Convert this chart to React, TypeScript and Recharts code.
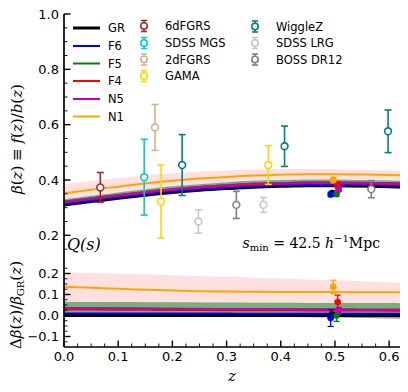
import {
  ComposedChart,
  Line,
  Area,
  Scatter,
  ErrorBar,
  XAxis,
  YAxis,
} from "recharts";

// redshift grid of the theory curves
const zGrid = [0, 0.05, 0.1, 0.15, 0.2, 0.25, 0.3, 0.35, 0.4, 0.45, 0.5, 0.55, 0.6, 0.62];

// beta(z) = f(z)/b(z), top panel
const betaGR = [0.31, 0.322, 0.334, 0.345, 0.355, 0.363, 0.369, 0.374, 0.377, 0.379, 0.379, 0.378, 0.376, 0.375];
const betaF6 = [0.313, 0.325, 0.337, 0.348, 0.358, 0.366, 0.372, 0.377, 0.38, 0.382, 0.382, 0.381, 0.379, 0.378];
const betaF5 = [0.322, 0.334, 0.346, 0.357, 0.367, 0.375, 0.381, 0.386, 0.389, 0.391, 0.391, 0.39, 0.388, 0.387];
const betaF4 = [0.319, 0.331, 0.343, 0.354, 0.364, 0.372, 0.378, 0.383, 0.386, 0.388, 0.388, 0.387, 0.385, 0.384];
const betaN5 = [0.321, 0.333, 0.345, 0.357, 0.367, 0.375, 0.381, 0.386, 0.389, 0.391, 0.391, 0.39, 0.388, 0.387];
const betaN1 = [0.352, 0.365, 0.376, 0.387, 0.397, 0.405, 0.411, 0.416, 0.419, 0.421, 0.421, 0.42, 0.418, 0.417];

// shaded bands, top panel
const pinkLoTop = [0.329, 0.341, 0.354, 0.365, 0.376, 0.384, 0.39, 0.395, 0.398, 0.4, 0.4, 0.399, 0.396, 0.395];
const pinkHiTop = [0.385, 0.396, 0.407, 0.416, 0.424, 0.43, 0.435, 0.438, 0.44, 0.44, 0.439, 0.437, 0.434, 0.433];
const greenLoTop = [0.313, 0.325, 0.336, 0.346, 0.356, 0.363, 0.368, 0.372, 0.375, 0.376, 0.375, 0.373, 0.371, 0.369];
const greenHiTop = [0.33, 0.343, 0.355, 0.367, 0.377, 0.385, 0.392, 0.397, 0.4, 0.402, 0.402, 0.4, 0.398, 0.397];

// delta beta / beta_GR, bottom panel
const dGR = [0, 0, 0, 0, 0, 0, 0, 0, 0, 0, 0, 0, 0, 0];
const dF6 = [0.01, 0.01, 0.01, 0.009, 0.009, 0.009, 0.009, 0.008, 0.008, 0.008, 0.008, 0.008, 0.008, 0.008];
const dF5 = [0.036, 0.035, 0.034, 0.033, 0.032, 0.031, 0.03, 0.029, 0.028, 0.028, 0.027, 0.026, 0.026, 0.025];
const dF4 = [0.028, 0.028, 0.027, 0.027, 0.026, 0.026, 0.025, 0.025, 0.025, 0.024, 0.024, 0.024, 0.023, 0.023];
const dN5 = [0.034, 0.034, 0.033, 0.033, 0.032, 0.032, 0.031, 0.031, 0.03, 0.03, 0.03, 0.029, 0.029, 0.029];
const dN1 = [0.137, 0.132, 0.127, 0.123, 0.119, 0.116, 0.114, 0.113, 0.112, 0.112, 0.112, 0.111, 0.111, 0.111];

const pinkLoBot = [0.06, 0.06, 0.059, 0.059, 0.058, 0.058, 0.057, 0.057, 0.056, 0.056, 0.055, 0.055, 0.054, 0.054];
const pinkHiBot = [0.205, 0.202, 0.199, 0.196, 0.192, 0.188, 0.184, 0.18, 0.176, 0.172, 0.168, 0.163, 0.158, 0.156];
const greenLoBot = [0.01, 0.008, 0.006, 0.004, 0.002, 0, -0.002, -0.004, -0.006, -0.008, -0.01, -0.012, -0.014, -0.015];
const greenHiBot = [0.065, 0.064, 0.064, 0.063, 0.063, 0.062, 0.062, 0.061, 0.061, 0.06, 0.06, 0.059, 0.059, 0.058];

// survey measurements
const sixdFGRS = [{ z: 0.067, beta: 0.373, err: 0.054 }];
const sdssMGS = [{ z: 0.148, beta: 0.41, err: 0.137 }];
const twodFGRS = [{ z: 0.168, beta: 0.59, err: 0.083 }];
const gama = [
  { z: 0.179, beta: 0.322, err: 0.132 },
  { z: 0.377, beta: 0.454, err: 0.07 },
];
const wiggleZ = [
  { z: 0.218, beta: 0.454, err: 0.11 },
  { z: 0.407, beta: 0.522, err: 0.073 },
  { z: 0.598, beta: 0.576, err: 0.077 },
];
const sdssLRG = [
  { z: 0.248, beta: 0.25, err: 0.042 },
  { z: 0.368, beta: 0.31, err: 0.027 },
];
const bossDR12 = [
  { z: 0.318, beta: 0.31, err: 0.049 },
  { z: 0.567, beta: 0.367, err: 0.031 },
];

// mock measurements per model near z = 0.5 (top: beta, bottom: delta)
const ptGR = [{ z: 0.495, beta: 0.353, err: 0.006, d: 0.004, dErr: 0.01 }];
const ptF6 = [{ z: 0.492, beta: 0.348, err: 0.008, d: -0.012, dErr: 0.04 }];
const ptF5 = [{ z: 0.503, beta: 0.35, err: 0.01, d: 0.0, dErr: 0.028 }];
const ptF4 = [{ z: 0.505, beta: 0.381, err: 0.012, d: 0.064, dErr: 0.033 }];
const ptN5 = [{ z: 0.507, beta: 0.366, err: 0.008, d: 0.024, dErr: 0.015 }];
const ptN1 = [{ z: 0.497, beta: 0.4, err: 0.01, d: 0.136, dErr: 0.032 }];

// axis ticks (majors + minors)
const xTicks = [0, 0.025, 0.05, 0.075, 0.1, 0.125, 0.15, 0.175, 0.2, 0.225, 0.25, 0.275, 0.3, 0.325, 0.35, 0.375, 0.4, 0.425, 0.45, 0.475, 0.5, 0.525, 0.55, 0.575, 0.6];
const topYTicks = [0.15, 0.2, 0.25, 0.3, 0.35, 0.4, 0.45, 0.5, 0.55, 0.6, 0.65, 0.7, 0.75, 0.8, 0.85, 0.9, 0.95, 1.0];
const botYTicks = [-0.125, -0.1, -0.075, -0.05, -0.025, 0, 0.025, 0.05, 0.075, 0.1, 0.125, 0.15, 0.175, 0.2, 0.225];

const modelNames = ["GR", "F6", "F5", "F4", "N5", "N1"];
const modelColors = ["#000000", "#0000ff", "#008000", "#ff0000", "#bf00bf", "#ffa500"];
const modelWidths = [3, 2, 2, 2, 2, 2];
const modelPoints = [ptGR, ptF6, ptF5, ptF4, ptN5, ptN1];

const surveyNames = ["6dFGRS", "SDSS MGS", "2dFGRS", "GAMA", "WiggleZ", "SDSS LRG", "BOSS DR12"];
const surveyColors = ["#a52a2a", "#00ced1", "#d2b48c", "#ffd700", "#008080", "#c8c8c8", "#808080"];
const surveyData = [sixdFGRS, sdssMGS, twodFGRS, gama, wiggleZ, sdssLRG, bossDR12];

const topData = zGrid.map((z, i) => ({
  z,
  GR: betaGR[i],
  F6: betaF6[i],
  F5: betaF5[i],
  F4: betaF4[i],
  N5: betaN5[i],
  N1: betaN1[i],
  pink: [pinkLoTop[i], pinkHiTop[i]],
  green: [greenLoTop[i], greenHiTop[i]],
}));

const botData = zGrid.map((z, i) => ({
  z,
  GR: dGR[i],
  F6: dF6[i],
  F5: dF5[i],
  F4: dF4[i],
  N5: dN5[i],
  N1: dN1[i],
  pink: [pinkLoBot[i], pinkHiBot[i]],
  green: [greenLoBot[i], greenHiBot[i]],
}));

const SANS = "'DejaVu Sans', sans-serif";
const SERIF = "'DejaVu Serif', serif";
const X_MAX = 0.62;

const isMultiple = (step: number) => (v: number) =>
  Math.abs(v / step - Math.round(v / step)) < 1e-6;

const fmt = (v: number) =>
  (v < -1e-9 ? "\u2212" : "") + Math.abs(v).toFixed(1);

// inward matplotlib-style ticks, minor ones without labels
const makeTick =
  (side: "left" | "right" | "top" | "bottom", isMajor: (v: number) => boolean, withLabel: boolean) =>
  (props: any) => {
    const { x, y, payload } = props;
    const v = payload.value;
    const major = isMajor(v);
    const len = major ? 6.5 : 3.5;
    const sw = major ? 1.4 : 0.9;
    let x2 = x;
    let y2 = y;
    if (side === "left") x2 = x + len;
    if (side === "right") x2 = x - len;
    if (side === "top") y2 = y + len;
    if (side === "bottom") y2 = y - len;
    return (
      <g>
        <line x1={x} y1={y} x2={x2} y2={y2} stroke="#000" strokeWidth={sw} />
        {withLabel && major && side === "left" && (
          <text x={x - 5} y={y + 4.7} textAnchor="end" fontSize={13} fontFamily={SANS} fill="#000">
            {fmt(v)}
          </text>
        )}
        {withLabel && major && side === "bottom" && (
          <text x={x} y={y + 14} textAnchor="middle" fontSize={13} fontFamily={SANS} fill="#000">
            {fmt(v)}
          </text>
        )}
      </g>
    );
  };

const spine = { stroke: "#000", strokeWidth: 1.7 };

const openCircle = (color: string) => (p: any) =>
  <circle cx={p.cx} cy={p.cy} r={3.4} fill="#fff" stroke={color} strokeWidth={1.6} />;

const filledCircle = (color: string) => (p: any) =>
  <circle cx={p.cx} cy={p.cy} r={3} fill={color} stroke={color} strokeWidth={0.8} />;

function Frame({ yTicks, yDomain, yMajor, showXLabels }: any) {
  return [
    <XAxis
      key="xb"
      xAxisId={0}
      type="number"
      dataKey="z"
      domain={[0, X_MAX]}
      ticks={xTicks}
      interval={0}
      allowDataOverflow
      height={showXLabels ? 45 : 0}
      tickSize={0}
      tickMargin={0}
      tickLine={false}
      axisLine={spine}
      tick={makeTick("bottom", isMultiple(0.1), showXLabels)}
    />,
    <XAxis
      key="xt"
      xAxisId="t"
      orientation="top"
      type="number"
      dataKey="z"
      domain={[0, X_MAX]}
      ticks={xTicks}
      interval={0}
      allowDataOverflow
      height={0}
      tickSize={0}
      tickMargin={0}
      tickLine={false}
      axisLine={spine}
      tick={makeTick("top", isMultiple(0.1), false)}
    />,
    <YAxis
      key="yl"
      yAxisId={0}
      type="number"
      domain={yDomain}
      ticks={yTicks}
      interval={0}
      allowDataOverflow
      width={64}
      tickSize={0}
      tickMargin={0}
      tickLine={false}
      axisLine={spine}
      tick={makeTick("left", yMajor, true)}
    />,
    <YAxis
      key="yr"
      yAxisId="r"
      orientation="right"
      type="number"
      domain={yDomain}
      ticks={yTicks}
      interval={0}
      allowDataOverflow
      width={0}
      tickSize={0}
      tickMargin={0}
      tickLine={false}
      axisLine={spine}
      tick={makeTick("right", yMajor, false)}
    />,
  ];
}

function Bands() {
  return [
    <Area key="pink" type="monotone" dataKey="pink" fill="#ffcccc" fillOpacity={0.6} stroke="none" isAnimationActive={false} activeDot={false} />,
    <Area key="green" type="monotone" dataKey="green" fill="#5fa35f" fillOpacity={0.85} stroke="none" isAnimationActive={false} activeDot={false} />,
  ];
}

function ModelLines() {
  return modelNames.map((m, i) => (
    <Line
      key={m}
      type="monotone"
      dataKey={m}
      stroke={modelColors[i]}
      strokeWidth={modelWidths[i]}
      dot={false}
      activeDot={false}
      isAnimationActive={false}
    />
  ));
}

function Legend() {
  const col1Y = [28, 46, 63.5, 81, 99, 116.5];
  const markY = [26, 43, 59.5, 76, 26.5, 43, 59.5];
  const markX = [144, 144, 144, 144, 255, 255, 255];
  return (
    <g fontFamily={SANS} fontSize={11.5} fill="#000">
      {modelNames.map((m, i) => (
        <g key={m}>
          <line x1={73} y1={col1Y[i]} x2={100} y2={col1Y[i]} stroke={modelColors[i]} strokeWidth={modelWidths[i]} />
          <text x={108} y={col1Y[i] + 4.2}>{m}</text>
        </g>
      ))}
      {surveyNames.map((s, i) => {
        const cx = markX[i];
        const cy = markY[i];
        const c = surveyColors[i];
        return (
          <g key={s}>
            <line x1={cx} y1={cy - 5.5} x2={cx} y2={cy + 5.5} stroke={c} strokeWidth={1.6} />
            <line x1={cx - 3} y1={cy - 5.5} x2={cx + 3} y2={cy - 5.5} stroke={c} strokeWidth={1.6} />
            <line x1={cx - 3} y1={cy + 5.5} x2={cx + 3} y2={cy + 5.5} stroke={c} strokeWidth={1.6} />
            <circle cx={cx} cy={cy} r={3.2} fill="#fff" stroke={c} strokeWidth={1.6} />
            <text x={cx + 21} y={cy + 4.2}>{s}</text>
          </g>
        );
      })}
    </g>
  );
}

export default function App() {
  return (
    <div style={{ position: "absolute", left: 0, top: 0, width: 408, height: 392, background: "#fff" }}>
      <div style={{ position: "absolute", left: 0, top: 0 }}>
        <ComposedChart width={408} height={263} data={topData} margin={{ top: 14, right: 8, bottom: 0, left: 0 }}>
          {Frame({ yTicks: topYTicks, yDomain: [0.1, 1.0], yMajor: isMultiple(0.2), showXLabels: false })}
          {Bands()}
          {ModelLines()}
          {surveyData.map((d, i) => (
            <Scatter key={surveyNames[i]} data={d} dataKey="beta" shape={openCircle(surveyColors[i])} isAnimationActive={false}>
              <ErrorBar dataKey="err" direction="y" width={3.5} stroke={surveyColors[i]} strokeWidth={1.6} isAnimationActive={false} />
            </Scatter>
          ))}
          {modelPoints.map((d, i) => (
            <Scatter key={"pt" + modelNames[i]} data={d} dataKey="beta" shape={filledCircle(modelColors[i])} isAnimationActive={false}>
              <ErrorBar dataKey="err" direction="y" width={3} stroke={modelColors[i]} strokeWidth={1.3} isAnimationActive={false} />
            </Scatter>
          ))}
        </ComposedChart>
      </div>
      <div style={{ position: "absolute", left: 0, top: 263 }}>
        <ComposedChart width={408} height={129} data={botData} margin={{ top: 0, right: 8, bottom: 0, left: 0 }}>
          {Frame({ yTicks: botYTicks, yDomain: [-0.15, 0.25], yMajor: isMultiple(0.1), showXLabels: true })}
          {Bands()}
          {ModelLines()}
          {modelPoints.map((d, i) => (
            <Scatter key={"dpt" + modelNames[i]} data={d} dataKey="d" shape={filledCircle(modelColors[i])} isAnimationActive={false}>
              <ErrorBar dataKey="dErr" direction="y" width={3} stroke={modelColors[i]} strokeWidth={1.3} isAnimationActive={false} />
            </Scatter>
          ))}
        </ComposedChart>
      </div>
      <svg width={408} height={392} style={{ position: "absolute", left: 0, top: 0, pointerEvents: "none" }}>
        <Legend />
        <text x={67} y={250} fontFamily={SERIF} fontStyle="italic" fontSize={16}>
          Q(s)
        </text>
        <text x={380} y={248} textAnchor="end" fontFamily={SERIF} fontSize={14}>
          <tspan fontStyle="italic">s</tspan>
          <tspan fontSize={10} dy={3}>min</tspan>
          <tspan dy={-3}> = 42.5 </tspan>
          <tspan fontStyle="italic">h</tspan>
          <tspan fontSize={10} dy={-6}>{"\u22121"}</tspan>
          <tspan dy={6}>Mpc</tspan>
        </text>
        <text transform="translate(22,139) rotate(-90)" textAnchor="middle" fontFamily={SERIF} fontSize={15}>
          <tspan fontStyle="italic">{"\u03b2"}</tspan>(<tspan fontStyle="italic">z</tspan>) {"\u2261"} <tspan fontStyle="italic">f</tspan>(<tspan fontStyle="italic">z</tspan>)/<tspan fontStyle="italic">b</tspan>(<tspan fontStyle="italic">z</tspan>)
        </text>
        <text transform="translate(21,305) rotate(-90)" textAnchor="middle" fontFamily={SERIF} fontSize={15}>
          {"\u0394"}<tspan fontStyle="italic">{"\u03b2"}</tspan>(<tspan fontStyle="italic">z</tspan>)/<tspan fontStyle="italic">{"\u03b2"}</tspan>
          <tspan fontSize={10} dy={3}>GR</tspan>
          <tspan dy={-3}>(</tspan>
          <tspan fontStyle="italic">z</tspan>)
        </text>
        <text x={232} y={381} textAnchor="middle" fontFamily={SERIF} fontStyle="italic" fontSize={15}>
          z
        </text>
      </svg>
    </div>
  );
}
